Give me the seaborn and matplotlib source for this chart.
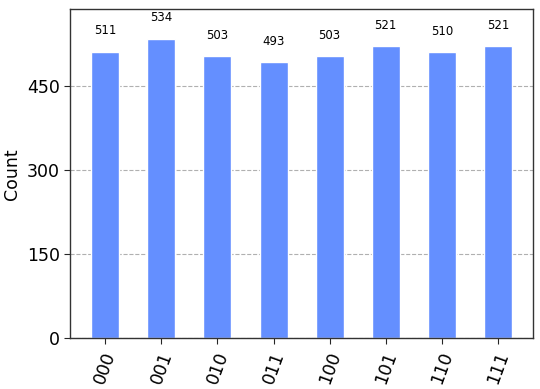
import matplotlib
matplotlib.use("Agg")
import matplotlib.pyplot as plt
import seaborn as sns
import pandas as pd

states = ["000", "001", "010", "011", "100", "101", "110", "111"]
counts = [511, 534, 503, 493, 503, 521, 510, 521]
yticks = [0, 150, 300, 450]

df = pd.DataFrame({"state": states, "count": counts})

sns.set_style("white")
plt.rcParams['font.family'] = ['DejaVu Sans']

fig, ax = plt.subplots(figsize=(5.4, 3.89), dpi=100)
fig.subplots_adjust(left=0.13, right=0.987, top=0.977, bottom=0.13)

sns.barplot(data=df, x="state", y="count", color="#648fff", saturation=1,
            width=0.5, ax=ax, zorder=2)

for i, v in enumerate(counts):
    ax.text(i, v * 1.05, str(v), ha="center", va="bottom", fontsize=8.5, color="black")

ax.set_ylim(0, max(counts) * 1.1)
ax.set_xlim(-0.625, len(states) - 0.375)
ax.set_yticks(yticks)
ax.yaxis.grid(True, linestyle="--", color="#b0b0b0", linewidth=0.8, zorder=0)
ax.set_axisbelow(True)
ax.set_xlabel("")
ax.set_ylabel("Count", fontsize=12.5, color="black")
ax.tick_params(axis="y", labelsize=12.5, left=True, length=4, labelcolor="black")
ax.tick_params(axis="x", labelsize=12.5, bottom=True, length=4, labelrotation=70, labelcolor="black")
for s in ax.spines.values():
    s.set_visible(True)
    s.set_color("#333333")
    s.set_linewidth(1)

fig.savefig("out.png", dpi=100)
